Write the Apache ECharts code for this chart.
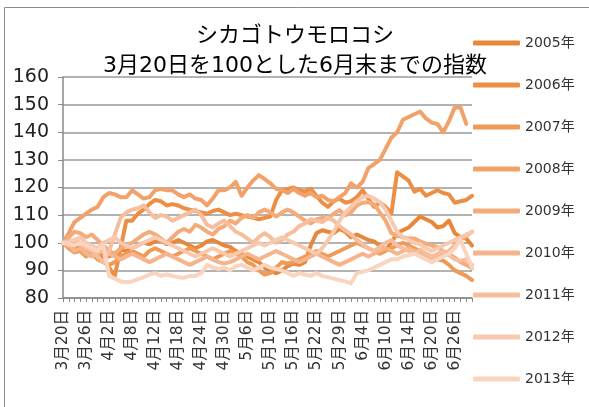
<!DOCTYPE html>
<html>
<head>
<meta charset="utf-8">
<script src="https://cdn.jsdelivr.net/npm/echarts@6/dist/echarts.min.js"></script>
<style>
  html, body { margin: 0; padding: 0; background: #fff; }
  #chart { width: 589px; height: 407px; }
</style>
</head>
<body>
<div id="chart"></div>
<script>
// 取引日（3月20日～6月末）
var dates = ['3月20日','3月21日','3月22日','3月25日','3月26日','3月27日','3月28日','4月1日','4月2日','4月3日',
  '4月4日','4月5日','4月8日','4月9日','4月10日','4月11日','4月12日','4月15日','4月16日','4月17日',
  '4月18日','4月19日','4月22日','4月23日','4月24日','4月25日','4月26日','4月29日','4月30日','5月1日',
  '5月2日','5月3日','5月6日','5月7日','5月8日','5月9日','5月10日','5月13日','5月14日','5月15日',
  '5月16日','5月17日','5月20日','5月21日','5月22日','5月23日','5月24日','5月28日','5月29日','5月30日',
  '5月31日','6月3日','6月4日','6月5日','6月6日','6月7日','6月10日','6月11日','6月12日','6月13日',
  '6月14日','6月17日','6月18日','6月19日','6月20日','6月21日','6月24日','6月25日','6月26日','6月27日',
  '6月28日','6月30日'];

var years = ['2005年','2006年','2007年','2008年','2009年','2010年','2011年','2012年','2013年'];
var colors = ['#E8873A','#EC8F45','#F09A57','#F2A269','#F3AB7A','#F5B48B','#F6BE9D','#F8C9AE','#F9D4BF'];

var y2005 = [100,99.5,98,97,98,96.5,97,96, 95,96,97.5,97,98,99,100,99.5,
  100.5,101,99.5,100,101,100,99,98, 99,100.5,101,100,99,98.5,97,96,
  95,94,93,91,90,89,90,91.5, 92.5,92,93,99,103.5,104.5,104,103.5,
  105,104,102,103,102,101,100.5,99, 97.5,100,103.5,104.5,105.5,107.5,109.5,108.5,
  107.5,105.5,106,108,103.5,102,101.5,99];
var y2006 = [100,101,99,98,97.5,97,96,94, 91,88,98,108,108,110.5,112,114,
  115.5,115,113.5,114,113.5,112.5,112,111.5, 111,110.5,111.5,112,111,110,110.5,110,
  109.5,109,108.5,109,109.5,115.5,119,119.5, 120,119,118.5,119.5,117,114.5,113,115,
  116,114.5,115,116.5,119,116,113,114.5, 113,110.5,125.5,124,122.5,118.5,119.5,117,
  118,119,118,117.5,114.5,115,115.5,117];
var y2007 = [100,98,96.5,97,95,96,94,93, 92,93,95,96,97,96,95,97,
  98,97,96,95,96,97,98,97, 96,95,94,95,96,97,96,95,
  93,92,90,88.5,89,91,93,92.5, 93,94,95,96,97,96,95,96,
  97,98,99,100,99,98,97,96, 97,98,99,100,99,98,97,96,
  95,94,93.5,92,90,89,88,86.5];
var y2008 = [100,103.5,107.5,109,110.5,112,113,116.5, 118,117.5,116.5,116.5,119,117.5,116,116.5,
  119,119.5,119,119,117.5,116.5,117.5,116, 115.5,113.5,116,119,119,120,122,117,
  120,122.5,124.5,123,121.5,119.5,119,118, 119.5,118,117,118,116.5,117,115.5,115,
  116.5,118,121.5,120,122,127,128.5,130, 134,138,140,144.5,145.5,146.5,147.5,145,
  143.5,143,140,144,149,149,143,null];
var y2009 = [100,102,104,103.5,102,103,101,99, 97,96,98,99,100,101.5,103,104,
  103,101.5,100,102,104,105,104,106.5, 105.5,104,103,105,106,108,107,109,
  110,109,111,112,111,109.5,111,112, 111,109.5,108,107,108.5,109,108.8,110.5,
  111.8,110,111,113.5,114.5,114.7,114,111, 108,103.5,102.5,102,101.5,101.5,100.5,99.7,
  99,98.5,97,96,94.6,93,92,90.8];
var y2010 = [100,99,97,98,96,95,96,97, 96,95,94,95,96,95,94,93,
  94,95,96,95,94,93,92,93, 94,95,94,93,92.5,93,94,95,
  96,95,94,95,96,97,96,95, 94,93,94,95,96,95,94,93,
  92,93,94,95,96,95,96,97, 98,97,96,97,98,97,96,95,
  94,95,96,97,99,101,102.5,104];
var y2011 = [100,99,101,100,98,97,95,93, 97,103,109,111,112,112.5,113.5,111,
  109,110,109.5,108,109,110,111,112, 110,106.5,105.5,107,108,106,104,103,
  101.5,100,102,103.5,102,100,101,103, 104,106,107,108.5,108,107.5,109,108,
  106,104.5,103,101,99.5,98,97,98.5, 100,101,99,98,97,96,97.5,96,
  95,96,97,95.5,94,93.5,94,92];
var y2012 = [100,100.5,101,102,100,99,98,100, 101,102,100,99,98,99,100,101,
  102,101,100,99,98,97,96,95, 96,97,98,97,96,95,96,97,
  98,99,100,99,100,101,102,101, 100,99,98,97,96,98,101,104,
  108,111,113,115,116.5,117,116,114.7, 112,108,104,102,101,100,99.5,98,
  97,98,99,100,101,102,103,103.8];
var y2013 = [100,99.5,99,100,99,98,97,99, 88,87,86,85.7,86,86.8,87.5,88.5,
  89,88,88.5,88,87.5,87.3,88,88, 89,92,91,90.5,91,90,91.5,92,
  91,90,91,92,91,90.5,90,89, 88,89,88.5,88,89,88,87.5,87,
  86.5,86,85.3,89,89.5,90,91,92, 93,94,94,95,95.5,96,95,94,
  93,94,95,96,98,101,96,91];

var values = [y2005, y2006, y2007, y2008, y2009, y2010, y2011, y2012, y2013];
var yTicks = [80, 160, 10]; // min, max, interval

var font = '"DejaVu Sans", "Noto Sans CJK JP", sans-serif';
var myChart = echarts.init(document.getElementById('chart'));

var seriesList = years.map(function (name, i) {
    return {
        name: name,
        type: 'line',
        symbol: 'none',
        data: values[i],
        itemStyle: {color: colors[i]},
        lineStyle: {color: colors[i], width: 4, cap: 'round', join: 'round'}
    };
});

var option = {
    animation: false,
    backgroundColor: '#fff',
    graphic: [{
        type: 'rect',
        shape: {x: 4.5, y: 7.5, width: 620, height: 440},
        style: {fill: 'none', stroke: '#8c8c8c', lineWidth: 1},
        silent: true
    }],
    title: {
        text: 'シカゴトウモロコシ\n3月20日を100とした6月末までの指数',
        left: 290,
        textAlign: 'center',
        top: 16,
        textStyle: {fontFamily: font, fontSize: 22, fontWeight: 'normal', color: '#000', lineHeight: 30}
    },
    legend: {
        orient: 'vertical',
        left: 473,
        top: 35,
        itemWidth: 47,
        itemHeight: 5,
        itemGap: 26,
        icon: 'roundRect',
        padding: 0,
        textStyle: {fontFamily: font, fontSize: 14, color: '#333', lineHeight: 16},
        data: years
    },
    grid: {left: 63, top: 77, right: 117, bottom: 109},
    xAxis: {
        type: 'category',
        boundaryGap: false,
        data: dates,
        axisLine: {lineStyle: {color: '#898989', width: 1.5}},
        axisTick: {show: true, interval: 0, length: 4, lineStyle: {color: '#898989'}},
        axisLabel: {interval: 3, rotate: 90, margin: 12, fontFamily: font, fontSize: 15.5, color: '#333'}
    },
    yAxis: {
        type: 'value',
        min: yTicks[0],
        max: yTicks[1],
        interval: yTicks[2],
        axisLine: {show: true, lineStyle: {color: '#898989', width: 1.5}},
        axisTick: {show: true, length: 5, lineStyle: {color: '#898989'}},
        axisLabel: {margin: 14, fontFamily: font, fontSize: 19, color: '#222'},
        splitLine: {lineStyle: {color: '#9a9a9a', width: 1.5}}
    },
    series: seriesList
};
myChart.setOption(option);
</script>
</body>
</html>
